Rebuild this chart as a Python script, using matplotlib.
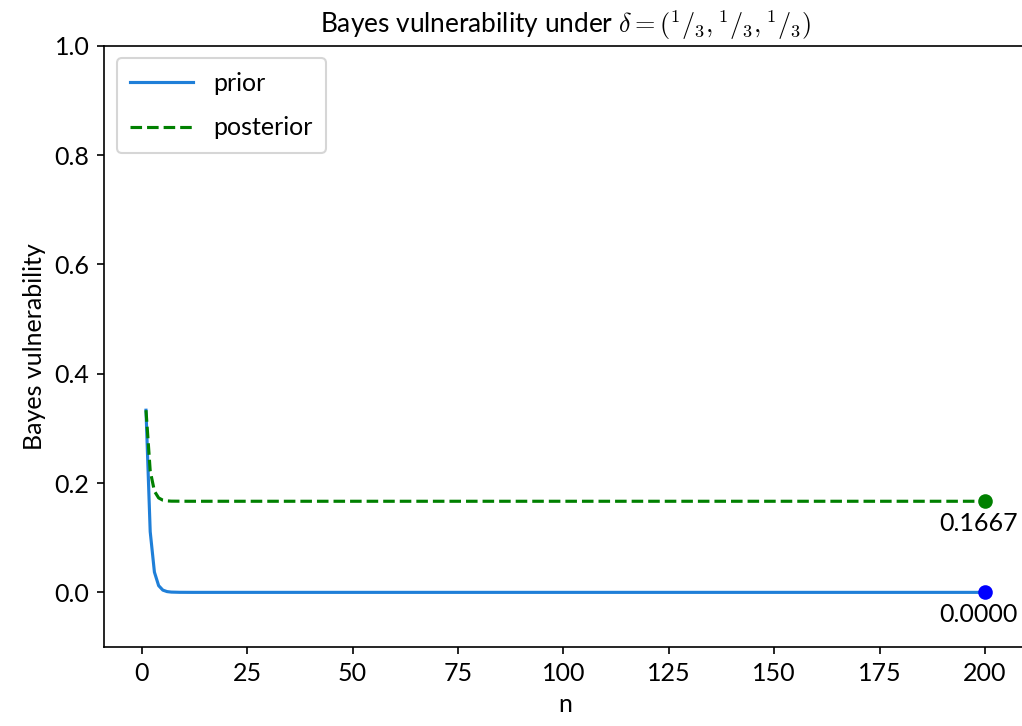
import numpy as np
import matplotlib
matplotlib.use("Agg")
import matplotlib.pyplot as plt

# vulnerability values for the first rounds, after that both curves are flat
prior_head = [0.3333, 0.1111, 0.0370, 0.0123, 0.0041, 0.0014, 0.0005, 0.0002, 0.0001, 0.0000]
posterior_head = [0.3333, 0.2222, 0.1852, 0.1728, 0.1687, 0.1674, 0.1669, 0.1668, 0.1667]
n_max = 200
prior_final = 0.0000
posterior_final = 0.1667


def pad(head, final, length):
    return list(head) + [final] * (length - len(head))


def main():
    plt.rcParams['font.family'] = ['Lato', 'DejaVu Sans']
    plt.rcParams['mathtext.fontset'] = 'cm'
    plt.rcParams['font.size'] = 12

    n = np.arange(1, n_max + 1)
    prior = pad(prior_head, prior_final, n_max)
    posterior = pad(posterior_head, posterior_final, n_max)

    fig = plt.figure(figsize=(1022 / 150, 726 / 150), dpi=150)
    ax = fig.add_axes([0.1018, 0.1088, 0.903, 0.828])

    ax.plot(n, prior, color='#1f7fd8', label='prior')
    ax.plot(n, posterior, color='green', linestyle='--', label='posterior')

    # mark and label the final values
    ax.plot(n[-1], prior[-1], 'o', color='blue')
    ax.plot(n[-1], posterior[-1], 'o', color='green')
    ax.annotate('%.4f' % prior[-1], (n[-1], prior[-1]), xytext=(-3, -5),
                textcoords='offset points', ha='center', va='top')
    ax.annotate('%.4f' % posterior[-1], (n[-1], posterior[-1]), xytext=(-3, -5),
                textcoords='offset points', ha='center', va='top')

    ax.set_ylim(-0.1, 1.0)
    ax.set_xticks([0, 25, 50, 75, 100, 125, 150, 175, 200])
    ax.set_xlabel('n')
    ax.set_ylabel('Bayes vulnerability')
    ax.set_title(r'Bayes vulnerability under $\delta = (^1/_3, ^1/_3, ^1/_3)$',
                 fontsize=12.6)
    ax.legend(loc='upper left', fontsize=12, handlelength=2.5,
              labelspacing=0.85, borderpad=0.55)

    fig.savefig('out.png', dpi=150)


if __name__ == "__main__":
    main()
